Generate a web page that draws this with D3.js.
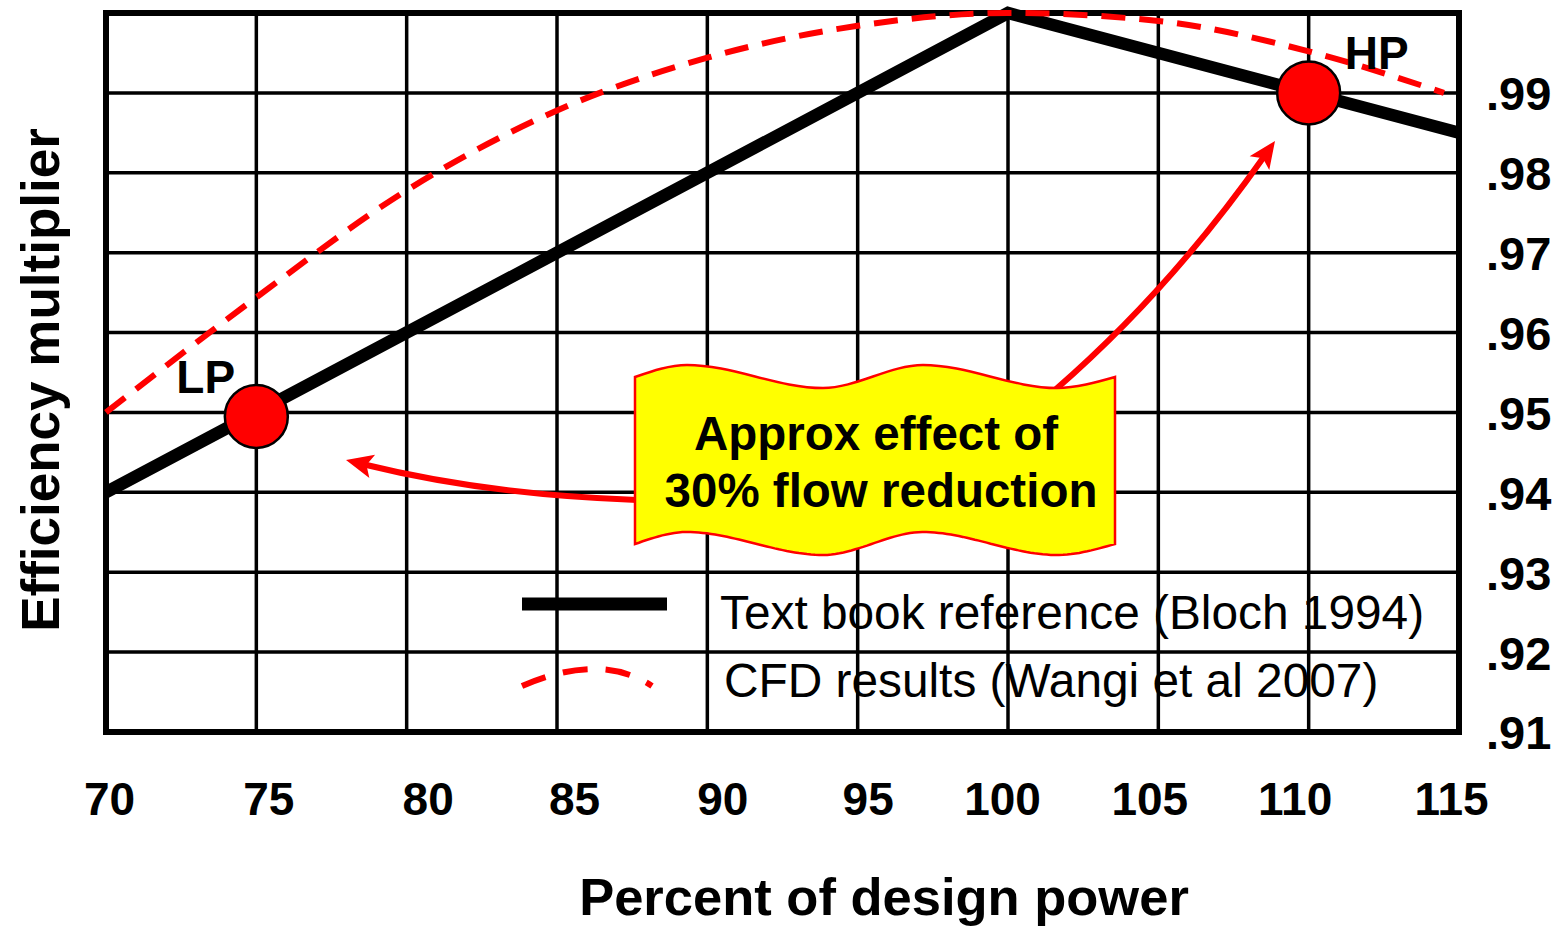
<!DOCTYPE html>
<html>
<head>
<meta charset="utf-8">
<script src="https://cdn.jsdelivr.net/npm/d3@7"></script>
<style>
  body { margin: 0; background: #fff; }
  svg text { font-family: "Liberation Sans", Arial, sans-serif; fill: #000; }
</style>
</head>
<body>
<div id="chart"></div>
<script>
// data
var xTicks = [70, 75, 80, 85, 90, 95, 100, 105, 110, 115];
var yTicks = [0.91, 0.92, 0.93, 0.94, 0.95, 0.96, 0.97, 0.98, 0.99];
var yGrid = [0.91, 0.92, 0.93, 0.94, 0.95, 0.96, 0.97, 0.98, 0.99, 1.00];

// text book reference (Bloch 1994)
var bookPower = [70, 100, 115];
var bookEff = [0.940, 1.000, 0.985];

// CFD results (Wangi et al 2007)
var cfdPower = [70, 75, 80, 85, 90, 95, 100, 105, 110, 114.5];
var cfdEff = [0.950, 0.9644, 0.9778, 0.9878, 0.9944, 0.9984, 1.000, 0.999, 0.9952, 0.990];

// operating points
var opNames = ["LP", "HP"];
var opPower = [75, 110];
var opEff = [0.9495, 0.99];

var legendNames = ["Text book reference (Bloch 1994)", "CFD results (Wangi et al 2007)"];

// labels in the original sit a little off their grid lines
var tickNudge = [3, 12, 21, 17, 15, 10, -6, -9, -14, -8];

var W = 1559, H = 927;
var plotL = 106, plotR = 1459, plotT = 13, plotB = 732;

var svg = d3.select("#chart").append("svg")
  .attr("width", W)
  .attr("height", H);

var x = d3.scaleLinear().domain([70, 115]).range([plotL, plotR]);
var y = d3.scaleLinear().domain([0.91, 1.00]).range([plotB, plotT]);

// grid
var g = svg.append("g");
g.selectAll("line.vgrid")
  .data(xTicks)
  .enter().append("line")
  .attr("x1", function(d) { return x(d); })
  .attr("x2", function(d) { return x(d); })
  .attr("y1", plotT).attr("y2", plotB)
  .attr("stroke", "#000").attr("stroke-width", 3.5);

g.selectAll("line.hgrid")
  .data(yGrid)
  .enter().append("line")
  .attr("x1", plotL - 3).attr("x2", plotR)
  .attr("y1", function(d) { return y(d); })
  .attr("y2", function(d) { return y(d); })
  .attr("stroke", "#000").attr("stroke-width", 3.5);

// frame
g.append("rect")
  .attr("x", plotL).attr("y", plotT)
  .attr("width", plotR - plotL).attr("height", plotB - plotT)
  .attr("fill", "none").attr("stroke", "#000").attr("stroke-width", 6);

// x tick labels
var xAxis = d3.axisBottom(x).tickValues(xTicks).tickSize(0).tickPadding(0)
  .tickFormat(d3.format("d"));
var xa = svg.append("g").attr("transform", "translate(0,815)").call(xAxis);
xa.select(".domain").remove();
xa.selectAll("text")
  .attr("dy", 0)
  .attr("x", function(d, i) { return tickNudge[i]; })
  .style("font-size", "46px").style("font-weight", "bold")
  .style("font-family", "'Liberation Sans', Arial, sans-serif").attr("fill", "#000");

// y tick labels on the right
var yAxis = d3.axisRight(y).tickValues(yTicks).tickSize(0).tickPadding(0)
  .tickFormat(function(d) { return d3.format(".2f")(d).replace(/^0/, ""); });
var ya = svg.append("g").attr("transform", "translate(1486,0)").call(yAxis);
ya.select(".domain").remove();
ya.selectAll("text")
  .attr("dy", "0.36em")
  .style("font-size", "47px").style("font-weight", "bold")
  .style("font-family", "'Liberation Sans', Arial, sans-serif").attr("fill", "#000");

// axis titles
svg.append("text")
  .attr("x", 884).attr("y", 915)
  .attr("text-anchor", "middle")
  .style("font-size", "52.5px").style("font-weight", "bold")
  .text("Percent of design power");

svg.append("text")
  .attr("transform", "translate(59,380) rotate(-90)")
  .attr("text-anchor", "middle")
  .style("font-size", "53px").style("font-weight", "bold")
  .text("Efficiency multiplier");

// lines
var line = d3.line()
  .x(function(d) { return x(d[0]); })
  .y(function(d) { return y(d[1]); });

svg.append("path")
  .datum(d3.zip(bookPower, bookEff))
  .attr("d", line)
  .attr("fill", "none").attr("stroke", "#000").attr("stroke-width", 12.5);

svg.append("path")
  .datum(d3.zip(cfdPower, cfdEff))
  .attr("d", line.curve(d3.curveMonotoneX))
  .attr("fill", "none").attr("stroke", "#ff0000").attr("stroke-width", 6)
  .attr("stroke-dasharray", "24,14");

// arrows: quadratic shaft with a drawn head
function arrow(p0, c, tip, w, headLen, headHalf) {
  var dx = tip[0] - c[0], dy = tip[1] - c[1];
  var n = Math.sqrt(dx * dx + dy * dy);
  var ux = dx / n, uy = dy / n;
  var end = [tip[0] - ux * headLen * 0.7, tip[1] - uy * headLen * 0.7];
  svg.append("path")
    .attr("d", "M" + p0 + "Q" + c + " " + end)
    .attr("fill", "none").attr("stroke", "#ff0000").attr("stroke-width", w);
  var bx = tip[0] - ux * headLen, by = tip[1] - uy * headLen;
  var nx = bx - ux * 0 , ny = by;
  svg.append("path")
    .attr("d", "M" + tip + "L" + [bx - uy * headHalf, by + ux * headHalf] +
      "L" + [tip[0] - ux * headLen * 0.78, tip[1] - uy * headLen * 0.78] +
      "L" + [bx + uy * headHalf, by - ux * headHalf] + "Z")
    .attr("fill", "#ff0000");
}
arrow([1055, 390], [1170, 290], [1275, 141], 6, 27, 12);
arrow([637, 500], [488, 495], [346, 460], 6, 27, 12);

// banner (double wave)
var waveTop = [[635, 377], [687, 365], [823, 388], [923, 365], [1057, 388], [1115, 377]];
var waveDrop = 167;
var wave = d3.line().curve(d3.curveMonotoneX);
var topD = wave(waveTop);
var bottomPts = waveTop.map(function(p) { return [p[0], p[1] + waveDrop]; });
var tmp = svg.append("path").attr("d", wave(bottomPts)).attr("fill", "none");
var len = tmp.node().getTotalLength();
var back = [];
for (var i = 0; i <= 120; i++) {
  var p = tmp.node().getPointAtLength(len * (1 - i / 120));
  back.push(p.x.toFixed(1) + "," + p.y.toFixed(1));
}
tmp.remove();

var banner = svg.append("g");
banner.append("path")
  .attr("d", topD + "L" + back.join("L") + "Z")
  .attr("fill", "#ffff00").attr("stroke", "#ff0000").attr("stroke-width", 2.5);

banner.append("text")
  .attr("x", 876).attr("y", 450)
  .attr("text-anchor", "middle")
  .style("font-size", "47.5px").style("font-weight", "bold")
  .text("Approx effect of");
banner.append("text")
  .attr("x", 881).attr("y", 507)
  .attr("text-anchor", "middle")
  .style("font-size", "47.5px").style("font-weight", "bold")
  .text("30% flow reduction");

// operating points
svg.selectAll("circle.op")
  .data(opNames)
  .enter().append("circle")
  .attr("class", "op")
  .attr("cx", function(d, i) { return x(opPower[i]); })
  .attr("cy", function(d, i) { return y(opEff[i]); })
  .attr("r", 31.5)
  .attr("fill", "#ff0000").attr("stroke", "#000").attr("stroke-width", 2.5);

var opLabelPos = [[-80, -23], [36, -24]];
svg.selectAll("text.op")
  .data(opNames)
  .enter().append("text")
  .attr("class", "op")
  .attr("x", function(d, i) { return x(opPower[i]) + opLabelPos[i][0]; })
  .attr("y", function(d, i) { return y(opEff[i]) + opLabelPos[i][1]; })
  .style("font-size", "46px").style("font-weight", "bold")
  .text(function(d) { return d; });

// legend
svg.append("line")
  .attr("x1", 522).attr("x2", 667)
  .attr("y1", 604).attr("y2", 604)
  .attr("stroke", "#000").attr("stroke-width", 13);

svg.append("path")
  .attr("d", "M522,686 Q600,652 652,686")
  .attr("fill", "none").attr("stroke", "#ff0000").attr("stroke-width", 6)
  .attr("stroke-dasharray", "25,18");

svg.selectAll("text.legend")
  .data(legendNames)
  .enter().append("text")
  .attr("class", "legend")
  .attr("x", function(d, i) { return i === 0 ? 720 : 724; })
  .attr("y", function(d, i) { return i === 0 ? 629 : 697; })
  .style("font-size", "47.8px")
  .text(function(d) { return d; });
</script>
</body>
</html>
